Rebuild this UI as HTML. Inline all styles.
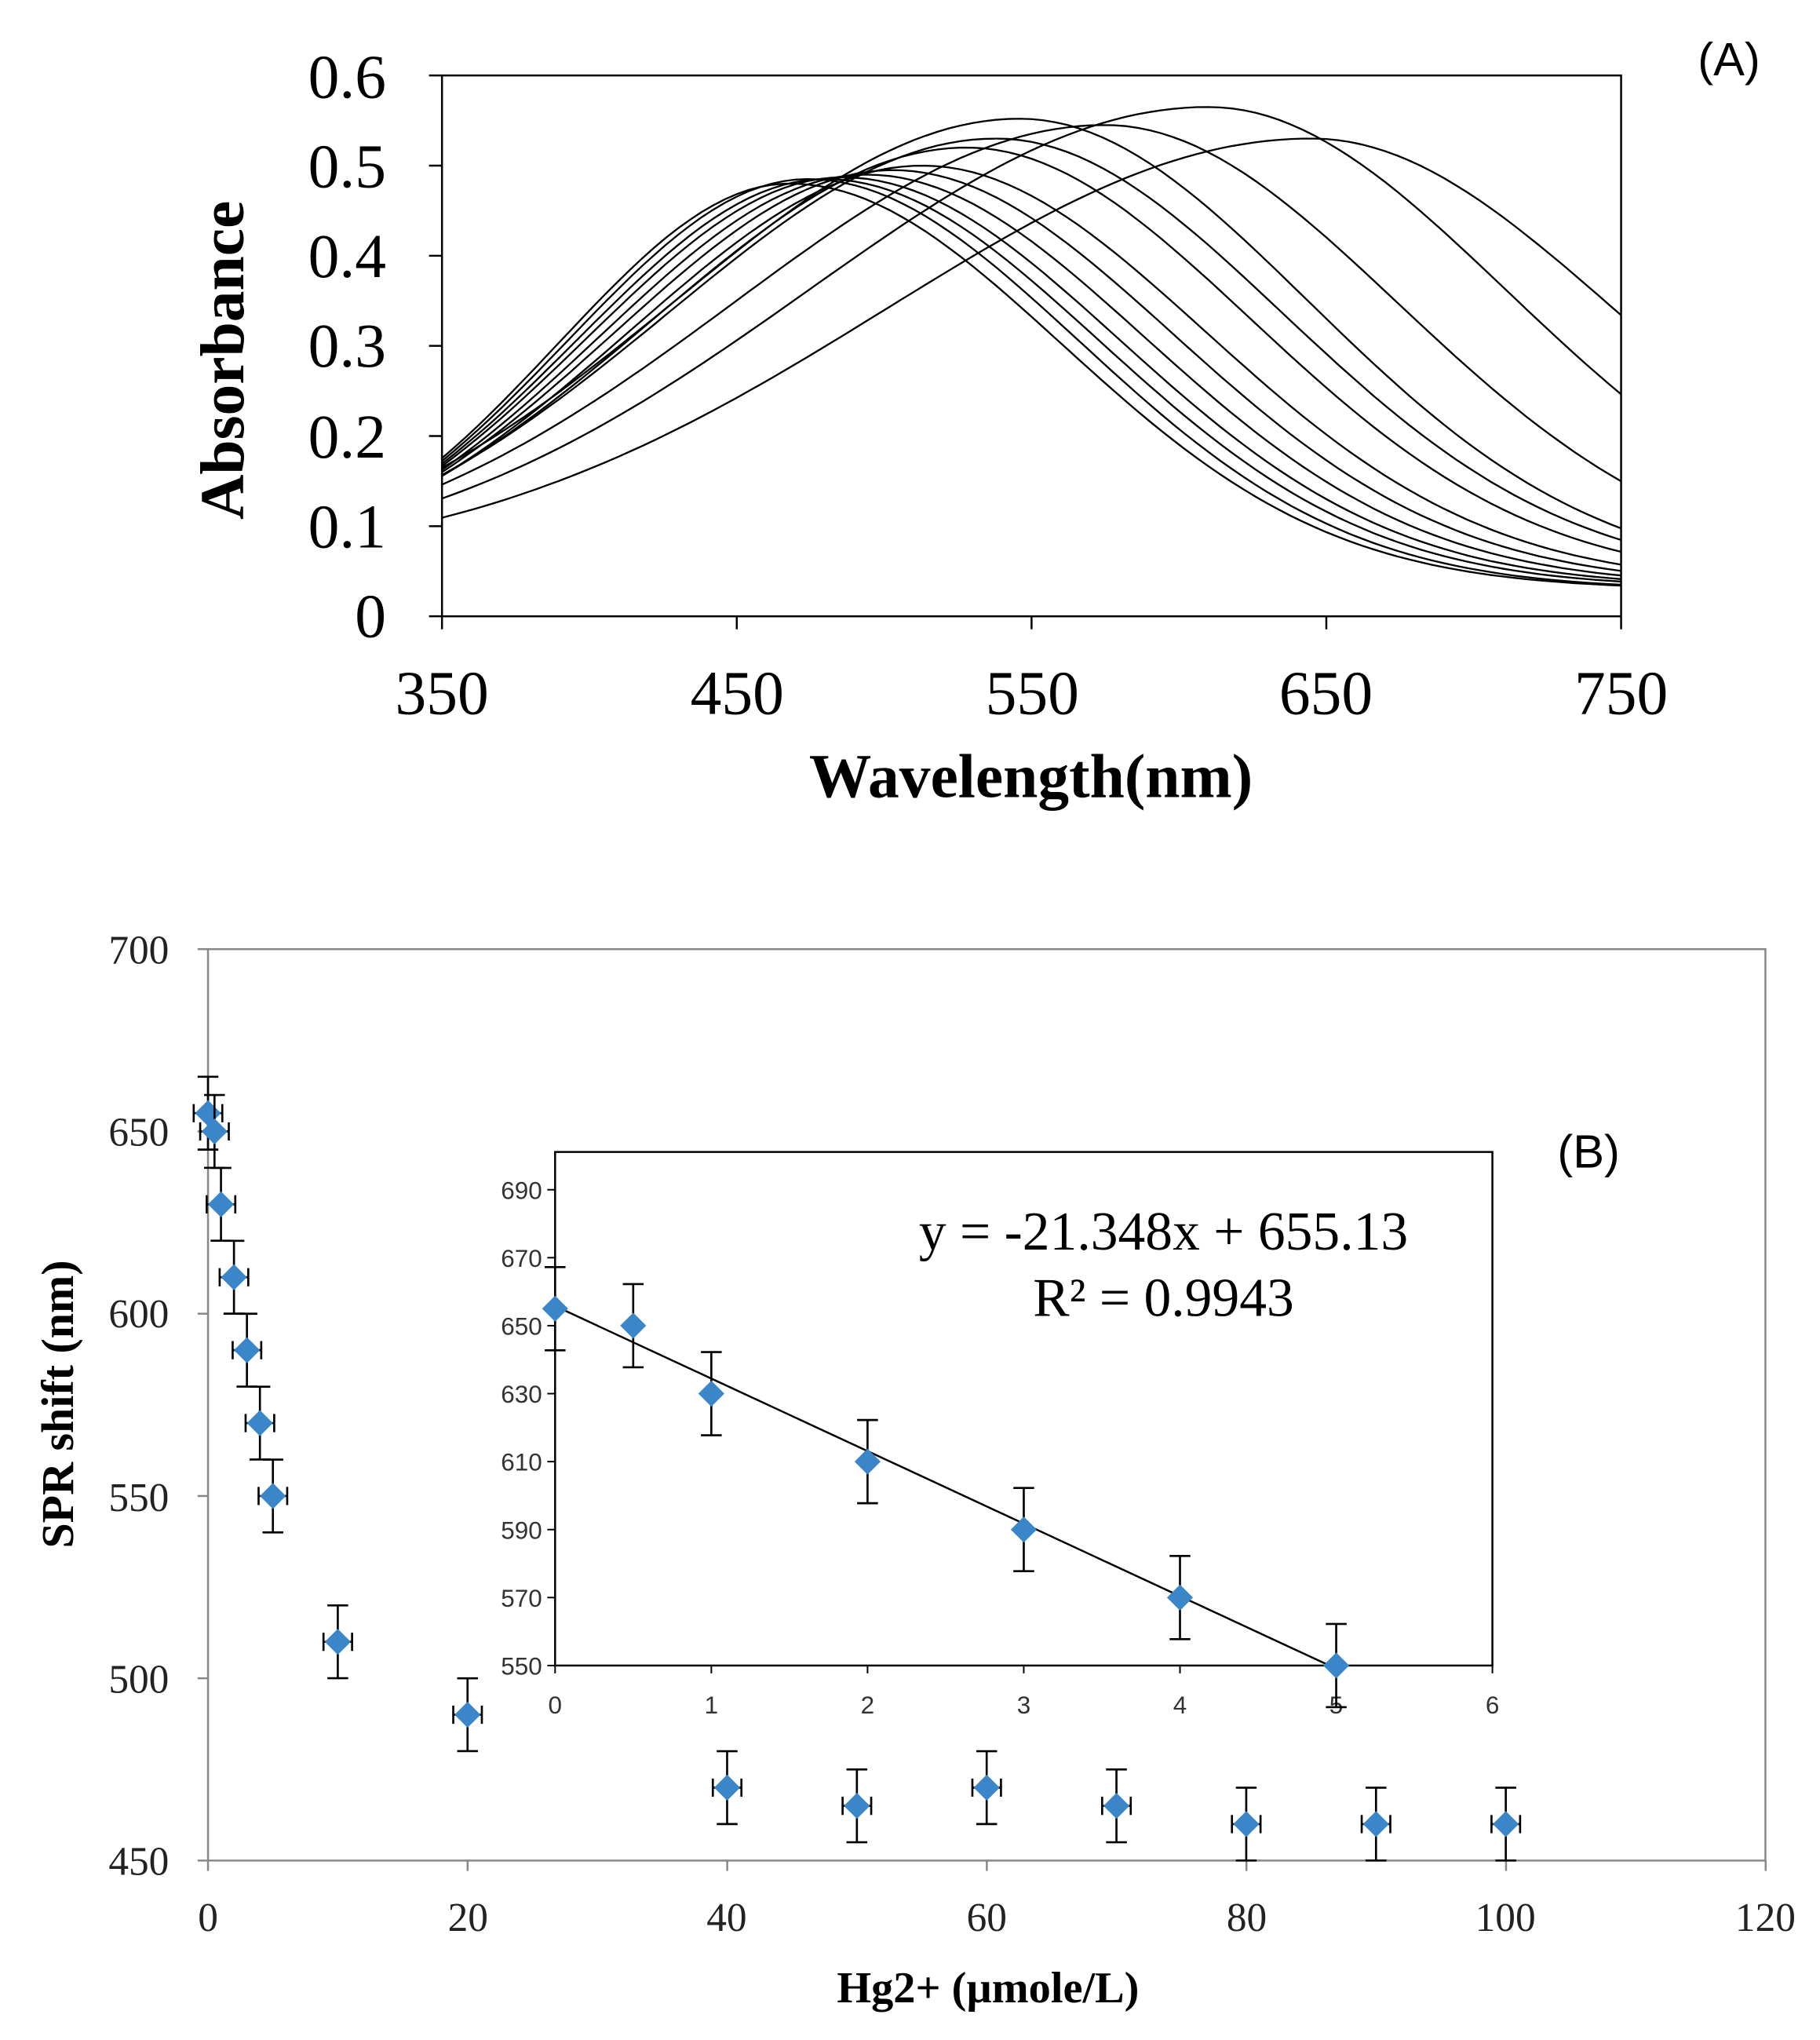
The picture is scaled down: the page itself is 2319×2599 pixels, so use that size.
<!DOCTYPE html>
<html><head><meta charset="utf-8"><style>
html,body{margin:0;padding:0;background:#fff;}
svg{display:block;}
</style></head><body>
<svg id="s" width="2319" height="2599" viewBox="0 0 1400 1569" xmlns="http://www.w3.org/2000/svg" font-family="'Liberation Serif', serif">
<rect width="1400" height="1569" fill="#fff"/>
<!-- Panel A -->
<rect x="340" y="58" width="907" height="416" fill="none" stroke="#000" stroke-width="1.5"/>
<g id="aticks" stroke="#000" stroke-width="1.5"></g>
<g id="curves" fill="none" stroke="#000" stroke-width="1.4"></g>
<g font-size="48" text-anchor="end">
<text x="297" y="490">0</text><text x="297" y="421">0.1</text><text x="297" y="352">0.2</text>
<text x="297" y="282">0.3</text><text x="297" y="213">0.4</text><text x="297" y="144">0.5</text><text x="297" y="75">0.6</text>
</g>
<g font-size="48" text-anchor="middle">
<text x="340" y="549">350</text><text x="567" y="549">450</text><text x="794" y="549">550</text>
<text x="1020" y="549">650</text><text x="1247" y="549">750</text>
</g>
<text x="793" y="613" font-size="48" font-weight="bold" text-anchor="middle">Wavelength(nm)</text>
<text transform="translate(187,277) rotate(-90)" font-size="48" font-weight="bold" text-anchor="middle">Absorbance</text>
<text x="1330" y="58" font-size="36" font-family="'Liberation Sans', sans-serif" text-anchor="middle">(A)</text>

<!-- Panel B -->
<rect x="160" y="730" width="1198" height="701" fill="none" stroke="#888" stroke-width="1.5"/>
<g id="bticks" stroke="#888" stroke-width="1.5"></g>
<g font-size="31" text-anchor="end" fill="#222">
<text x="130" y="1442">450</text><text x="130" y="1302">500</text><text x="130" y="1162">550</text>
<text x="130" y="1021">600</text><text x="130" y="881">650</text><text x="130" y="741">700</text>
</g>
<g font-size="31" text-anchor="middle" fill="#222">
<text x="160" y="1485">0</text><text x="360" y="1485">20</text><text x="559" y="1485">40</text>
<text x="759" y="1485">60</text><text x="959" y="1485">80</text><text x="1158" y="1485">100</text><text x="1358" y="1485">120</text>
</g>
<text x="760" y="1540" font-size="34" font-weight="bold" text-anchor="middle">Hg2+ (µmole/L)</text>
<text transform="translate(56,1080) rotate(-90)" font-size="35" font-weight="bold" text-anchor="middle">SPR shift  (nm)</text>
<text x="1222" y="898" font-size="36" font-family="'Liberation Sans', sans-serif" text-anchor="middle">(B)</text>
<g id="bdata"></g>

<!-- Inset -->
<rect x="427" y="886" width="721" height="395" fill="#fff" stroke="#000" stroke-width="1.5"/>
<g id="iticks" stroke="#000" stroke-width="1.2"></g>
<g font-size="19" font-family="'Liberation Sans', sans-serif" text-anchor="end" fill="#333" id="iylab"></g>
<g font-size="19" font-family="'Liberation Sans', sans-serif" text-anchor="middle" fill="#333" id="ixlab"></g>
<line x1="427" y1="1004.5" x2="1028" y2="1283.5" stroke="#000" stroke-width="1.5"/>
<g id="idata"></g>
<text x="895" y="961" font-size="42" text-anchor="middle">y = -21.348x  + 655.13</text>
<text x="895" y="1012" font-size="42" text-anchor="middle">R² = 0.9943</text>
</svg>
<script>
var NS="http://www.w3.org/2000/svg";
function el(p,t,a){var e=document.createElementNS(NS,t);for(var k in a)e.setAttribute(k,a[k]);document.getElementById(p).appendChild(e);return e;}
for(var i=0;i<=6;i++){var y=474-i*69.33;el('aticks','line',{x1:330,x2:340,y1:y,y2:y});}
for(var i=0;i<=4;i++){var x=340+i*226.75;el('aticks','line',{x1:x,x2:x,y1:474,y2:484});}
function AX(l){return 340+(l-350)*2.2675;} function AY(a){return 474-a*693.3;}
var C=[[468,0.48,111,130,0.03],[474,0.485,115,130,0.03],[480,0.485,119,131,0.032],[486,0.487,123,132,0.033],
[494,0.49,128,133,0.034],[503,0.495,134,134,0.035],[513,0.50,140,135,0.036],[528,0.52,150,136,0.038],
[538,0.53,157,137,0.04],[546,0.552,165,138,0.04],[575,0.545,178,140,0.045],[610,0.565,192,143,0.048],[645,0.53,204,145,0.05]];
C.forEach(function(c){var d="";for(var l=350;l<=750;l+=4){var w=l<c[0]?c[2]:c[3];var a=c[4]+(c[1]-c[4])*Math.exp(-Math.pow((l-c[0])/w,2));d+=(l==350?"M":"L")+AX(l).toFixed(1)+","+AY(a).toFixed(1);}el('curves','path',{d:d});});
function BX(x){return 160+x*9.983;} function BY(y){return 1431-(y-450)*2.804;}
for(var i=0;i<=5;i++){var y=1431-i*140.2;el('bticks','line',{x1:152,x2:160,y1:y,y2:y});}
for(var i=0;i<=6;i++){var x=160+i*199.7;el('bticks','line',{x1:x,x2:x,y1:1431,y2:1439});}
function marker(g,x,y,ex,ey,r){
 var s={stroke:'#000','stroke-width':1.6};
 el(g,'line',Object.assign({x1:x,x2:x,y1:y-ey,y2:y+ey},s));
 el(g,'line',Object.assign({x1:x-8,x2:x+8,y1:y-ey,y2:y-ey},s));
 el(g,'line',Object.assign({x1:x-8,x2:x+8,y1:y+ey,y2:y+ey},s));
 if(ex>0){el(g,'line',Object.assign({x1:x-ex,x2:x+ex,y1:y,y2:y},s));
 el(g,'line',Object.assign({x1:x-ex,x2:x-ex,y1:y-7,y2:y+7},s));
 el(g,'line',Object.assign({x1:x+ex,x2:x+ex,y1:y-7,y2:y+7},s));}
 el(g,'path',{d:'M'+x+','+(y-r)+'L'+(x+r)+','+y+'L'+x+','+(y+r)+'L'+(x-r)+','+y+'Z',fill:'#3a86c8'});
}
var D=[[0,655],[0.5,650],[1,630],[2,610],[3,590],[4,570],[5,550],[10,510],[20,490],[40,470],[50,465],[60,470],[70,465],[80,460],[90,460],[100,460]];
D.forEach(function(p){marker('bdata',BX(p[0]),BY(p[1]),11,28,10);});
function IX(x){return 427+x*120.17;} function IY(y){return 1281-(y-550)*2.614;}
for(var v=550;v<=690;v+=20){var y=IY(v);el('iticks','line',{x1:421,x2:427,y1:y,y2:y});var t=el('iylab','text',{x:417,y:y+7});t.textContent=v;}
for(var v=0;v<=6;v++){var x=IX(v);el('iticks','line',{x1:x,x2:x,y1:1281,y2:1287});var t=el('ixlab','text',{x:x,y:1318});t.textContent=v;}
D.slice(0,7).forEach(function(p){marker('idata',IX(p[0]),IY(p[1]),0,32,10);});
</script>
</body></html>
